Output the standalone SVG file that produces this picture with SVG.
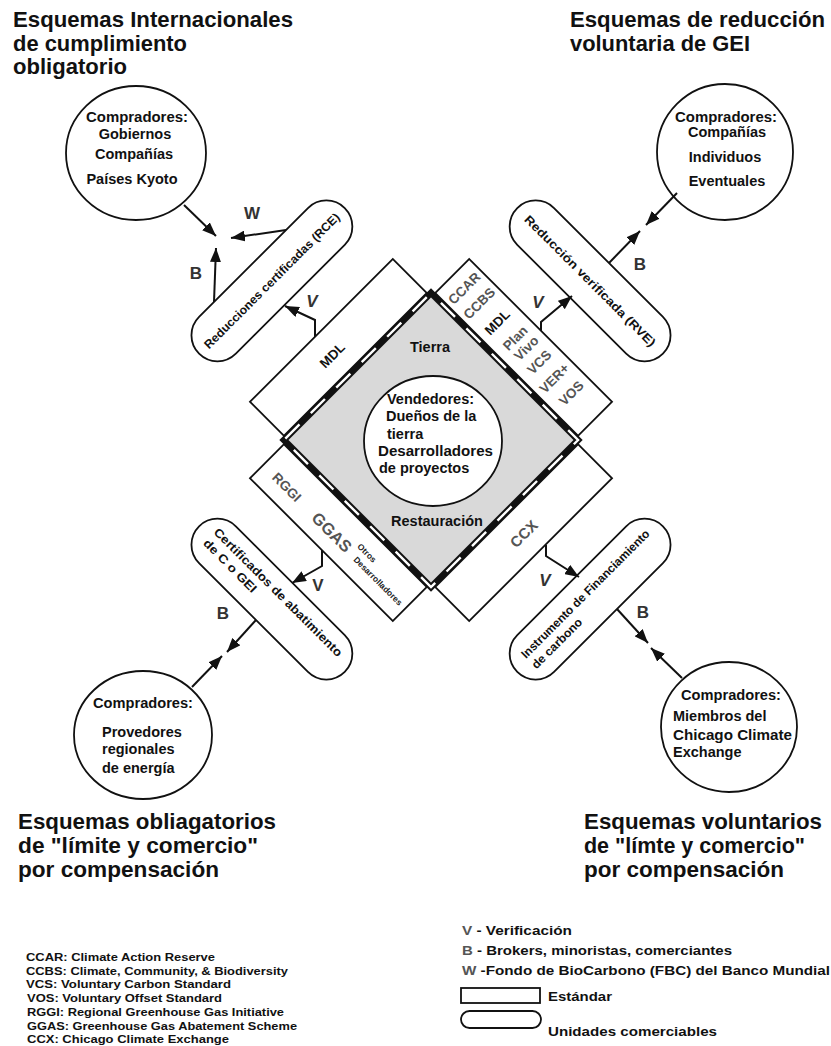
<svg xmlns="http://www.w3.org/2000/svg" width="831" height="1046" viewBox="0 0 831 1046">
<defs>
<marker id="ah" markerWidth="14" markerHeight="11" refX="14" refY="5.5" orient="auto" markerUnits="userSpaceOnUse">
<path d="M0,0 L14,5.5 L0,11 Z" fill="#111"/>
</marker>
<style>
text{font-family:"Liberation Sans",Arial,sans-serif;fill:#111}
.t{font-size:21.5px;font-weight:bold}
.tb{font-size:22px;font-weight:bold}
.c{font-size:14.5px;font-weight:bold}
.p{font-size:12px;font-weight:bold}
.s{font-size:13.5px;font-weight:bold;fill:#555}
.lab{font-size:17px;font-weight:bold;fill:#333}
.lg{font-size:11.5px;font-weight:bold}
.lr{font-size:13px;font-weight:bold}
.g{fill:#555}
.shape{fill:#fff;stroke:#111;stroke-width:1.8}
.con{fill:none;stroke:#111;stroke-width:2;marker-end:url(#ah)}
</style>
</defs>
<rect width="831" height="1046" fill="#fff"/>

<!-- titles -->
<g id="title-tl">
<text class="t" x="13" y="27" textLength="280" lengthAdjust="spacingAndGlyphs">Esquemas Internacionales</text>
<text class="t" x="13" y="51" textLength="174" lengthAdjust="spacingAndGlyphs">de cumplimiento</text>
<text class="t" x="13" y="74" textLength="114" lengthAdjust="spacingAndGlyphs">obligatorio</text>
</g>
<g id="title-tr">
<text class="t" x="570" y="27" textLength="255" lengthAdjust="spacingAndGlyphs">Esquemas de reducción</text>
<text class="t" x="570" y="51" textLength="180" lengthAdjust="spacingAndGlyphs">voluntaria de GEI</text>
</g>
<g id="title-bl">
<text class="tb" x="18" y="829" textLength="258" lengthAdjust="spacingAndGlyphs">Esquemas obliagatorios</text>
<text class="tb" x="18" y="853" textLength="240" lengthAdjust="spacingAndGlyphs">de "límite y comercio"</text>
<text class="tb" x="18" y="877" textLength="201" lengthAdjust="spacingAndGlyphs">por compensación</text>
</g>
<g id="title-br">
<text class="tb" x="584" y="829" textLength="238" lengthAdjust="spacingAndGlyphs">Esquemas voluntarios</text>
<text class="tb" x="584" y="853" textLength="221" lengthAdjust="spacingAndGlyphs">de "límte y comercio"</text>
<text class="tb" x="584" y="877" textLength="200" lengthAdjust="spacingAndGlyphs">por compensación</text>
</g>

<!-- central diamond -->
<g id="land">
<g transform="translate(431,440) rotate(45)">
<rect x="-101" y="-101" width="202" height="202" fill="#d9d9d9"/>
<path d="M-104,-104 H104 V104 H-104 Z" fill="none" stroke="#111" stroke-width="6.5" stroke-linejoin="miter"/>
<path d="M-104,-104 H104 V104 H-104 Z" fill="none" stroke="#fff" stroke-width="2.4" stroke-dasharray="20 16" stroke-dashoffset="-14"/>
</g>
<text class="c" x="430" y="352" text-anchor="middle">Tierra</text>
<text class="c" x="437" y="526" text-anchor="middle">Restauración</text>
</g>

<g id="sellers">
<ellipse class="shape" cx="433" cy="441" rx="69" ry="65"/>
<text class="c" x="387" y="404" font-size="15">Vendedores:</text>
<text class="c" x="386" y="421">Dueños de la</text>
<text class="c" x="387" y="439">tierra</text>
<text class="c" x="378" y="456" textLength="115" lengthAdjust="spacingAndGlyphs">Desarrolladores</text>
<text class="c" x="379" y="473">de proyectos</text>
</g>

<!-- standards -->
<g id="std-tl">
<rect class="shape" x="-155" y="-101" width="48" height="202" transform="translate(431,440) rotate(45)"/>
<text class="s" transform="translate(332,355) rotate(-45)" y="5" text-anchor="middle" style="fill:#111">MDL</text>
</g>
<g id="std-tr">
<rect class="shape" x="-101" y="-155" width="202" height="48" transform="translate(431,440) rotate(45)"/>
<text class="s" transform="translate(464,288) rotate(-45)" y="5" text-anchor="middle">CCAR</text>
<text class="s" transform="translate(479,303) rotate(-45)" y="5" text-anchor="middle">CCBS</text>
<text class="s" transform="translate(497,322) rotate(-45)" y="5" text-anchor="middle" style="fill:#111">MDL</text>
<text class="s" transform="translate(515,338) rotate(-45)" y="5" text-anchor="middle">Plan</text>
<text class="s" transform="translate(526,348) rotate(-45)" y="5" text-anchor="middle">Vivo</text>
<text class="s" transform="translate(539,362) rotate(-45)" y="5" text-anchor="middle">VCS</text>
<text class="s" transform="translate(554,378) rotate(-45)" y="5" text-anchor="middle">VER+</text>
<text class="s" transform="translate(571,393) rotate(-45)" y="5" text-anchor="middle">VOS</text>
</g>
<g id="std-bl">
<rect class="shape" x="-101" y="107" width="202" height="48" transform="translate(431,440) rotate(45)"/>
<text class="s" transform="translate(287,487) rotate(45)" y="5" text-anchor="middle" font-size="14">RGGI</text>
<text class="s" transform="translate(332,532) rotate(45)" y="6" text-anchor="middle" style="font-size:16.5px">GGAS</text>
<text class="s" transform="translate(367,553) rotate(45)" y="3" text-anchor="middle" style="font-size:8.5px;fill:#222">Otros</text>
<text class="s" transform="translate(378,581) rotate(45)" y="3" text-anchor="middle" style="font-size:8.5px;fill:#222">Desarrolladores</text>
</g>
<g id="std-br">
<rect class="shape" x="107" y="-101" width="48" height="202" transform="translate(431,440) rotate(45)"/>
<text class="s" transform="translate(524,534) rotate(-45)" y="5" text-anchor="middle" style="font-size:15px">CCX</text>
</g>

<!-- tradable units -->
<g id="unit-tl">
<rect class="shape" x="-251" y="-103" width="52" height="206" rx="26" transform="translate(431,440) rotate(45)"/>
<text class="p" transform="translate(274.8,283.8) rotate(-45)" text-anchor="middle" textLength="186" lengthAdjust="spacingAndGlyphs">Reducciones certificadas (RCE)</text>
</g>
<g id="unit-tr">
<rect class="shape" x="-103" y="-251" width="206" height="52" rx="26" transform="translate(431,440) rotate(45)"/>
<text class="p" transform="translate(587.2,283.8) rotate(45)" text-anchor="middle" textLength="180" lengthAdjust="spacingAndGlyphs">Reducción verificada (RVE)</text>
</g>
<g id="unit-bl">
<rect class="shape" x="-103" y="199" width="206" height="52" rx="26" transform="translate(431,440) rotate(45)"/>
<text class="p" transform="translate(213,533) rotate(45)" textLength="176" lengthAdjust="spacingAndGlyphs">Certificados de abatimiento</text>
<text class="p" transform="translate(202.5,544) rotate(45)" textLength="70" lengthAdjust="spacingAndGlyphs">de C o GEI</text>
</g>
<g id="unit-br">
<rect class="shape" x="199" y="-103" width="52" height="206" rx="26" transform="translate(431,440) rotate(45)"/>
<text class="p" transform="translate(526,659) rotate(-45)" textLength="176" lengthAdjust="spacingAndGlyphs">Instrumento de Financiamiento</text>
<text class="p" transform="translate(536.5,669.5) rotate(-45)" textLength="66" lengthAdjust="spacingAndGlyphs">de carbono</text>
</g>

<!-- buyers -->
<g id="buyers-tl">
<ellipse class="shape" cx="136" cy="153" rx="70" ry="67"/>
<text class="c" x="137" y="122" text-anchor="middle" textLength="102" lengthAdjust="spacingAndGlyphs">Compradores:</text>
<text class="c" x="135" y="139" text-anchor="middle">Gobiernos</text>
<text class="c" x="134" y="159" text-anchor="middle">Compañías</text>
<text class="c" x="132" y="184" text-anchor="middle">Países Kyoto</text>
</g>
<g id="buyers-tr">
<ellipse class="shape" cx="725" cy="152" rx="68" ry="68"/>
<text class="c" x="726" y="122" text-anchor="middle" textLength="102" lengthAdjust="spacingAndGlyphs">Compradores:</text>
<text class="c" x="727" y="137" text-anchor="middle">Compañías</text>
<text class="c" x="725" y="162" text-anchor="middle">Individuos</text>
<text class="c" x="727" y="186" text-anchor="middle">Eventuales</text>
</g>
<g id="buyers-bl">
<ellipse class="shape" cx="143" cy="735" rx="69" ry="64"/>
<text class="c" x="93" y="708" textLength="100" lengthAdjust="spacingAndGlyphs">Compradores:</text>
<text class="c" x="102" y="737">Provedores</text>
<text class="c" x="102" y="754">regionales</text>
<text class="c" x="102" y="773">de energía</text>
</g>
<g id="buyers-br">
<ellipse class="shape" cx="729" cy="727" rx="68" ry="65"/>
<text class="c" x="681" y="700" textLength="100" lengthAdjust="spacingAndGlyphs">Compradores:</text>
<text class="c" x="673" y="721">Miembros del</text>
<text class="c" x="673" y="740" textLength="119" lengthAdjust="spacingAndGlyphs">Chicago Climate</text>
<text class="c" x="673" y="757">Exchange</text>
</g>

<!-- connectors -->
<g id="connectors">
<path class="con" d="M184,205 L216,236"/>
<path class="con" d="M286,230 L231,238"/>
<path class="con" d="M214,302 L216,248"/>
<path class="con" d="M315,337 V320 L285,306"/>
<path class="con" d="M541,331 V322 L572,296"/>
<path class="con" d="M609,263 L640,231"/>
<path class="con" d="M677,193 L646,225"/>
<path class="con" d="M322,550 V566 L292,583"/>
<path class="con" d="M256,620 L227,652"/>
<path class="con" d="M192,687 L222,656"/>
<path class="con" d="M546,545 V556 L579,577"/>
<path class="con" d="M617,609 L648,643"/>
<path class="con" d="M682,678 L651,648"/>
</g>

<g id="labels">
<text class="lab" x="252" y="219" text-anchor="middle">W</text>
<text class="lab" x="196" y="279" text-anchor="middle">B</text>
<text class="lab" x="312" y="307" text-anchor="middle" font-style="italic">V</text>
<text class="lab" x="538" y="308" text-anchor="middle" font-style="italic">V</text>
<text class="lab" x="640" y="270" text-anchor="middle">B</text>
<text class="lab" x="318" y="591" text-anchor="middle">V</text>
<text class="lab" x="223" y="619" text-anchor="middle">B</text>
<text class="lab" x="545" y="586" text-anchor="middle" font-style="italic">V</text>
<text class="lab" x="643" y="618" text-anchor="middle">B</text>
</g>

<!-- legends -->
<g id="legend-abbr">
<text class="lg" x="26" y="961" textLength="189" lengthAdjust="spacingAndGlyphs">CCAR: Climate Action Reserve</text>
<text class="lg" x="26" y="975" textLength="262" lengthAdjust="spacingAndGlyphs">CCBS: Climate, Community, &amp; Biodiversity</text>
<text class="lg" x="26" y="988" textLength="205" lengthAdjust="spacingAndGlyphs">VCS: Voluntary Carbon Standard</text>
<text class="lg" x="27" y="1002" textLength="195" lengthAdjust="spacingAndGlyphs">VOS: Voluntary Offset Standard</text>
<text class="lg" x="27" y="1016" textLength="257" lengthAdjust="spacingAndGlyphs">RGGI: Regional Greenhouse Gas Initiative</text>
<text class="lg" x="27" y="1030" textLength="270" lengthAdjust="spacingAndGlyphs">GGAS: Greenhouse Gas Abatement Scheme</text>
<text class="lg" x="27" y="1043" textLength="202" lengthAdjust="spacingAndGlyphs">CCX: Chicago Climate Exchange</text>
</g>
<g id="legend-keys">
<text class="lr" x="462" y="935" textLength="110" lengthAdjust="spacingAndGlyphs"><tspan class="g">V</tspan> - Verificación</text>
<text class="lr" x="462" y="955" textLength="270" lengthAdjust="spacingAndGlyphs"><tspan class="g">B</tspan> - Brokers, minoristas, comerciantes</text>
<text class="lr" x="462" y="975" textLength="368" lengthAdjust="spacingAndGlyphs"><tspan class="g">W</tspan> -Fondo de BioCarbono (FBC) del Banco Mundial</text>
<rect class="shape" x="461" y="988" width="79" height="15"/>
<text class="lr" x="548" y="1001" textLength="64" lengthAdjust="spacingAndGlyphs">Estándar</text>
<rect class="shape" x="461" y="1011" width="80" height="17" rx="8.5"/>
<text class="lr" x="548" y="1036" textLength="169" lengthAdjust="spacingAndGlyphs">Unidades comerciables</text>
</g>
</svg>
